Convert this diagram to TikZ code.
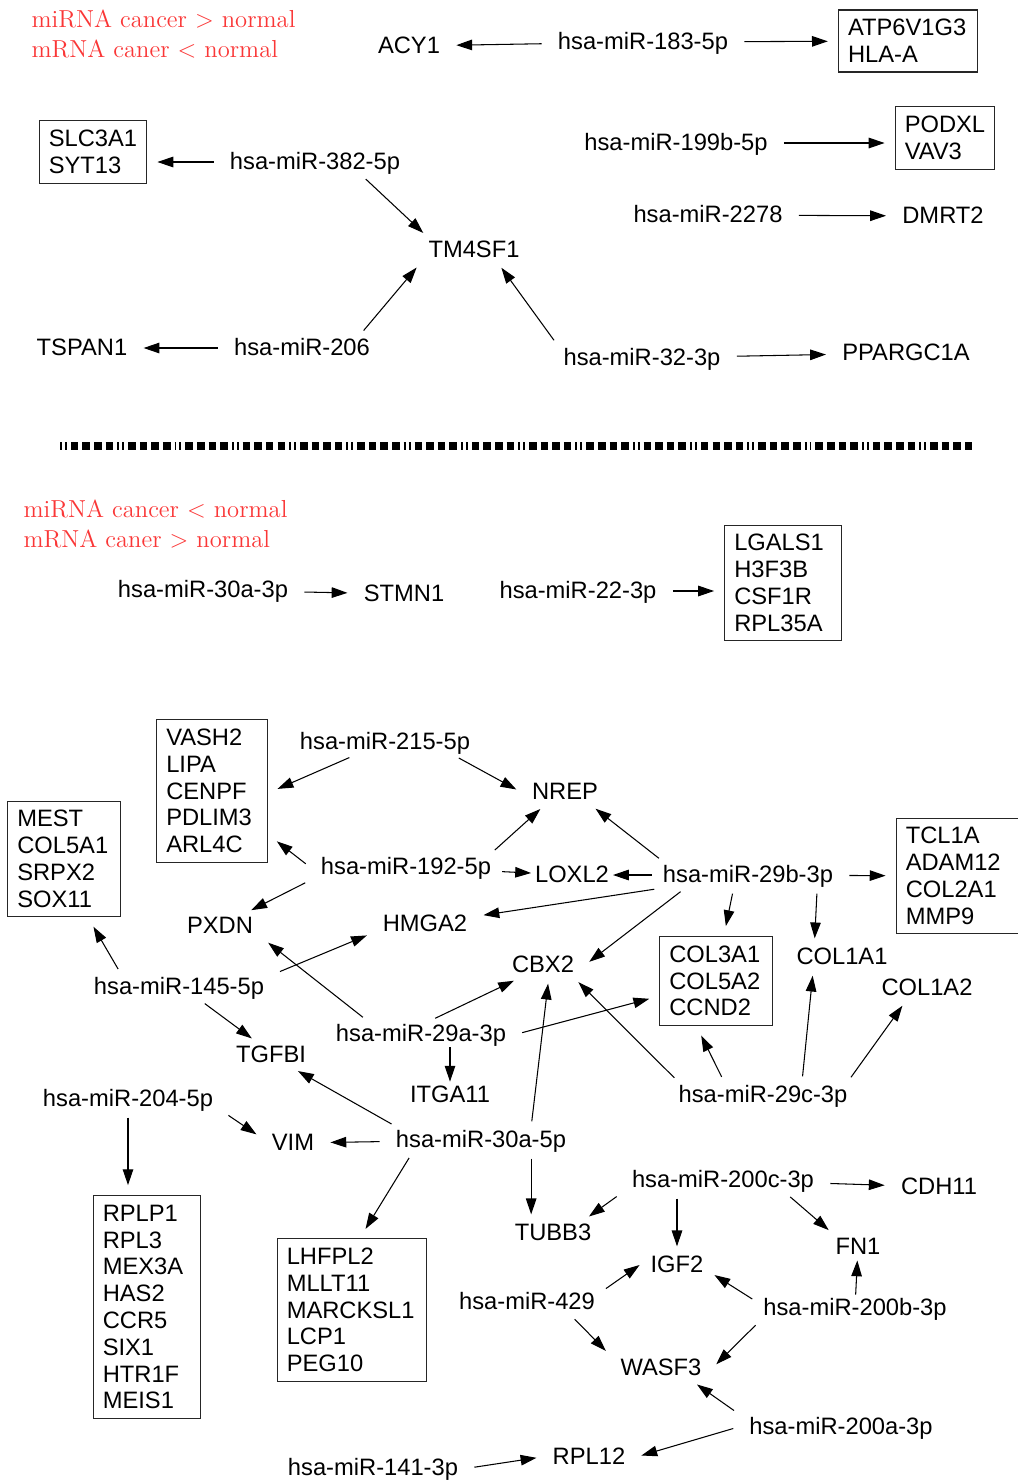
\documentclass[tikz,border=0pt]{standalone}
\usepackage{fontspec}
\setsansfont{Liberation Sans}
\usepackage{tikz}
\usetikzlibrary{arrows.meta}
\definecolor{labelred}{RGB}{250,55,55}

\begin{document}
\begin{tikzpicture}[
    x=0.02cm, y=-0.02cm,
    mirna/.style={font=\sffamily\fontsize{13.5}{15.25}\selectfont,inner xsep=6pt,inner ysep=2pt,text height=9.7pt,text depth=1pt},
    target/.style={mirna},
    targetbox/.style={draw=black!85,align=left,font=\sffamily\fontsize{13.5}{15.25}\selectfont,inner xsep=5.5pt,inner ysep=5.3pt,outer sep=3pt},
    note/.style={anchor=west,inner sep=0pt,text=labelred,font=\rmfamily\fontsize{14}{16}\selectfont},
    sepline/.style={line width=4.5pt,shorten <=0pt,shorten >=0pt,
        dash pattern=on 1.1pt off 1.7pt on 1.1pt off 2.3pt on 4.3pt off 2.3pt on 4.3pt off 2.3pt on 4.3pt off 2.3pt on 4.3pt off 2.3pt},
    tight/.style={shorten <=0pt,shorten >=0pt},
    >={Triangle[length=9pt,width=6pt]},
    shorten >=3pt, shorten <=3pt,
    line width=0.6pt,
]
    \useasboundingbox (0,0) rectangle (1018,1482);

    % miRNA up, mRNA down
    \node[note] (upmir) at (31,19) {miRNA cancer > normal};
    \node[note] (upmrna) at (31,49) {mRNA caner < normal};
    \node[target] (acy1) at (409,46) {ACY1};
    \node[mirna] (m183) at (643,42) {hsa-miR-183-5p};
    \node[targetbox,text width=2.4cm] (g183) at (908,41) {ATP6V1G3\\HLA-A};
    \node[targetbox,text width=1.77cm] (g382) at (93,152) {SLC3A1\\SYT13};
    \node[mirna] (m382) at (315,162) {hsa-miR-382-5p};
    \node[target] (tm4sf1) at (474,250) {TM4SF1};
    \node[mirna] (m199) at (676,143) {hsa-miR-199b-5p};
    \node[targetbox,text width=1.61cm] (g199) at (945,138) {PODXL\\VAV3};
    \node[mirna] (m2278) at (708,215) {hsa-miR-2278};
    \node[target] (dmrt2) at (943,216) {DMRT2};
    \node[target] (tspan1) at (82,348) {TSPAN1};
    \node[mirna] (m206) at (302,348) {hsa-miR-206};
    \node[mirna] (m32) at (642,358) {hsa-miR-32-3p};
    \node[target] (ppargc1a) at (906,353) {PPARGC1A};

    \draw[->] (m183) -- (acy1);
    \draw[->] (m183) -- (g183);
    \draw[->] (m382) -- (m382 -| g382.east);
    \draw[->] (m382.344) -- (tm4sf1.164);
    \draw[->] (m199) -- (m199 -| g199.west);
    \draw[->] (m2278) -- (dmrt2);
    \draw[->] (m206) -- (tspan1);
    \draw[->] (m206.13) -- (tm4sf1.194);
    \draw[->] (m32.171) -- (tm4sf1.331);
    \draw[->] (m32) -- (ppargc1a);

    \draw[sepline] (60,446) -- (976,446);

    % miRNA down, mRNA up
    \node[note] (downmir) at (23,509) {miRNA cancer < normal};
    \node[note] (downmrna) at (23,539) {mRNA caner > normal};
    \node[mirna] (m30a3p) at (203,590) {hsa-miR-30a-3p};
    \node[target] (stmn1) at (404,594) {STMN1};
    \node[mirna] (m22) at (578,591) {hsa-miR-22-3p};
    \node[targetbox,text width=1.95cm] (g22) at (783,583) {LGALS1\\H3F3B\\CSF1R\\RPL35A};

    \draw[->] (m30a3p) -- (stmn1);
    \draw[->] (m22) -- (m22 -| g22.west);

    % network
    \node[targetbox,text width=1.83cm] (g215) at (212,791) {VASH2\\LIPA\\CENPF\\PDLIM3\\ARL4C};
    \node[mirna] (m215) at (385,742) {hsa-miR-215-5p};
    \node[target] (nrep) at (565,792) {NREP};
    \node[targetbox,text width=1.87cm] (g145) at (64,859) {MEST\\COL5A1\\SRPX2\\SOX11};
    \node[mirna] (m192) at (406,867) {hsa-miR-192-5p};
    \node[target,inner xsep=2pt] (loxl2) at (572,875) {LOXL2};
    \node[mirna] (m29b) at (748,875) {hsa-miR-29b-3p};
    \node[targetbox,text width=2.25cm] (g29b) at (962,876) {TCL1A\\ADAM12\\COL2A1\\MMP9};
    \node[target] (pxdn) at (220,926) {PXDN};
    \node[target] (hmga2) at (425,924) {HMGA2};
    \node[mirna] (m145) at (179,987) {hsa-miR-145-5p};
    \node[target] (cbx2) at (543,965) {CBX2};
    \node[targetbox,text width=1.87cm] (gcol) at (716,981) {COL3A1\\COL5A2\\CCND2};
    \node[target] (col1a1) at (842,957) {COL1A1};
    \node[target] (col1a2) at (927,988) {COL1A2};
    \node[mirna] (m29a) at (421,1034) {hsa-miR-29a-3p};
    \node[target] (tgfbi) at (271,1055) {TGFBI};
    \node[target] (itga11) at (450,1095) {ITGA11};
    \node[mirna] (m29c) at (763,1095) {hsa-miR-29c-3p};
    \node[mirna] (m204) at (128,1099) {hsa-miR-204-5p};
    \node[target] (vim) at (293,1143) {VIM};
    \node[mirna] (m30a5p) at (481,1140) {hsa-miR-30a-5p};
    \node[targetbox,text width=1.77cm] (g204) at (147,1307) {RPLP1\\RPL3\\MEX3A\\HAS2\\CCR5\\SIX1\\HTR1F\\MEIS1};
    \node[targetbox,text width=2.61cm] (g30a) at (352,1310) {LHFPL2\\MLLT11\\MARCKSL1\\LCP1\\PEG10};
    \node[mirna] (m200c) at (723,1180) {hsa-miR-200c-3p};
    \node[target] (cdh11) at (939,1187) {CDH11};
    \node[target] (tubb3) at (553,1233) {TUBB3};
    \node[target] (fn1) at (858,1247) {FN1};
    \node[target] (igf2) at (677,1265) {IGF2};
    \node[mirna] (m429) at (527,1302) {hsa-miR-429};
    \node[mirna] (m200b) at (855,1308) {hsa-miR-200b-3p};
    \node[target] (wasf3) at (661,1368) {WASF3};
    \node[mirna] (m200a) at (841,1427) {hsa-miR-200a-3p};
    \node[target] (rpl12) at (589,1457) {RPL12};
    \node[mirna] (m141) at (373,1468) {hsa-miR-141-3p};

    \draw[->] (m215) -- (g215.east);
    \draw[->] (m215.349) -- (nrep.west);
    \draw[->] (m192.west) -- (g215);
    \draw[->] (m192.9) -- (nrep.213);
    \draw[->,tight] (m192) -- (loxl2);
    \draw[->] (m192.south west) -- (pxdn);
    \draw[->,tight] (m29b) -- (loxl2);
    \draw[->] (m29b.171) -- (nrep.333);
    \draw[->] (m29b) -- (g29b);
    \draw[->] (m29b) -- (hmga2);
    \draw[->] (m29b.192) -- (cbx2.east);
    \draw[->] (m29b.223) -- (gcol.80);
    \draw[->] (m29b.349) -- (col1a1.154);
    \draw[->] (m145.167) -- (g145.293);
    \draw[->] (m145.north east) -- (hmga2.190);
    \draw[->] (m145.328) -- (tgfbi.138);
    \draw[->] (m29a.55) -- (cbx2.209);
    \draw[->] (m29a.east) -- (gcol);
    \draw[->] (m29a.166) -- (pxdn.south east);
    \draw[->,tight] (itga11 |- m29a.south) -- (itga11);
    \draw[->] (m29c.171) -- (cbx2.337);
    \draw[->] (m29c.161) -- (gcol.251);
    \draw[->] (m29c.19) -- (col1a1.205);
    \draw[->] (m29c.9) -- (col1a2.212);
    \draw[->] (m204.south east) -- (vim.170);
    \draw[->] (m204) -- (m204 |- g204.north);
    \draw[->] (m30a5p) -- (vim);
    \draw[->] (m30a5p.171) -- (tgfbi.329);
    \draw[->] (m30a5p.191) -- (g30a.82);
    \draw[->] (m30a5p.345) -- (m30a5p.345 |- tubb3.north);
    \draw[->] (m30a5p.15) -- (cbx2.293);
    \draw[->] (m200c) -- (cdh11);
    \draw[->] (m200c.south west) -- (tubb3.23);
    \draw[->] (igf2 |- m200c.south) -- (igf2);
    \draw[->] (m200c.348) -- (fn1.152);
    \draw[->,tight] (m429.north east) -- (igf2.west);
    \draw[->] (m429.343) -- (wasf3.north west);
    \draw[->,tight] (m200b.175) -- (igf2.345);
    \draw[->,tight] (m200b) -- (fn1);
    \draw[->] (m200b.188) -- (wasf3.east);
    \draw[->] (m200a.north west) -- (wasf3.337);
    \draw[->] (m200a.west) -- (rpl12.east);
    \draw[->] (m141.east) -- (rpl12.west);
\end{tikzpicture}
\end{document}
